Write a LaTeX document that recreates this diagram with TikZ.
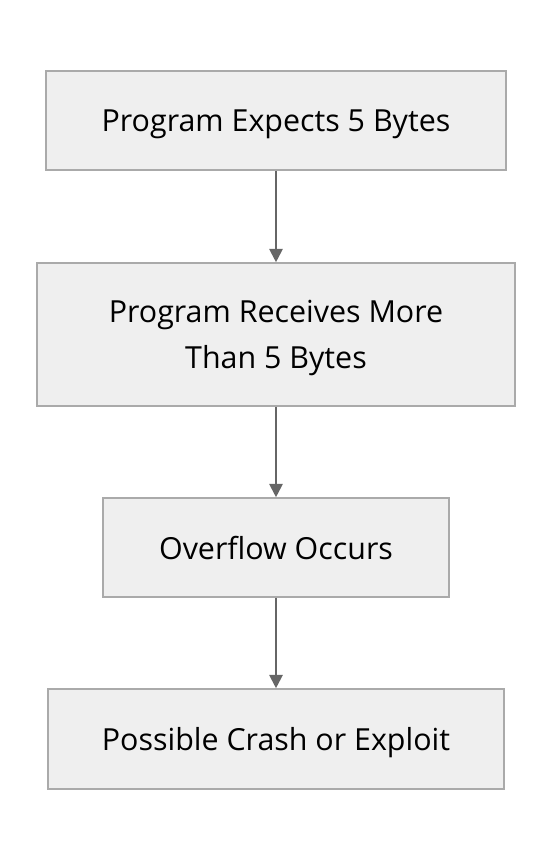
\documentclass[tikz,border=0pt]{standalone}
\usepackage{fontspec}
\setmainfont{Open Sans}
\usetikzlibrary{arrows.meta}
\definecolor{boxfill}{HTML}{EFEFEF}
\definecolor{boxline}{HTML}{AAAAAA}
\definecolor{arrowline}{HTML}{666666}

\begin{document}
\begin{tikzpicture}[x=0.75pt,y=-0.75pt,
    stepbox/.style={draw=boxline,fill=boxfill,line width=1.2pt,font=\fontsize{22.8}{34}\selectfont,align=center,text depth=0pt},
    flow/.style={draw=arrowline,line width=1.5pt,-{Triangle[length=10pt,width=10pt]}}]
        \useasboundingbox (0,0) rectangle (552,860);

        \node[stepbox,minimum width=460*0.75pt,minimum height=99*0.75pt] (expects) at (276,120.5) {Program Expects 5 Bytes};
        \node[stepbox,minimum width=478*0.75pt,minimum height=143*0.75pt] (receives) at (276,334.5) {Program Receives More\\Than 5 Bytes};
        \node[stepbox,minimum width=346*0.75pt,minimum height=99*0.75pt] (overflow) at (276,547.5) {Overflow Occurs};
        \node[stepbox,minimum width=456*0.75pt,minimum height=100*0.75pt] (crash) at (276,739) {Possible Crash or Exploit};

        \draw[flow] (expects) -- (receives);
        \draw[flow] (receives) -- (overflow);
        \draw[flow] (overflow) -- (crash);
      \end{tikzpicture}
\end{document}
